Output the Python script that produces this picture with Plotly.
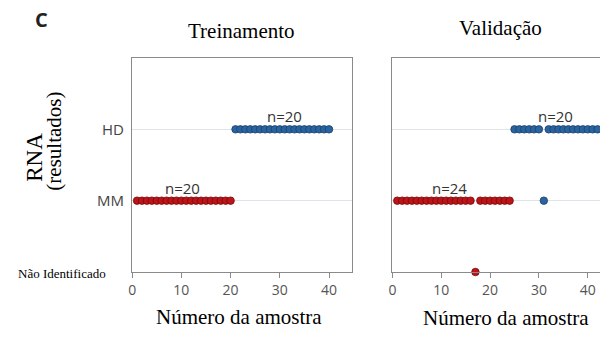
import plotly.graph_objects as go

# ---- data ----
categories = ["Não Identificado", "MM", "HD"]   # y levels 0,1,2
x_ticks = [0, 10, 20, 30, 40]

train_mm = [1, 2, 3, 4, 5, 6, 7, 8, 9, 10, 11, 12, 13, 14, 15, 16, 17, 18, 19, 20]
train_hd = [21, 22, 23, 24, 25, 26, 27, 28, 29, 30, 31, 32, 33, 34, 35, 36, 37, 38, 39, 40]

val_mm_red = [1, 2, 3, 4, 5, 6, 7, 8, 9, 10, 11, 12, 13, 14, 15, 16, 18, 19, 20, 21, 22, 23, 24]
val_ni_red = [17]
val_mm_blue = [31]
val_hd_blue = [25, 26, 27, 28, 29, 30, 32, 33, 34, 35, 36, 37, 38, 39, 40, 41, 42, 43, 44, 45]

n_labels = ["n=20", "n=20", "n=24", "n=20"]
n_label_x = [10.2, 31.0, 11.6, 33.3]
n_label_y = ["MM", "HD", "MM", "HD"]
n_label_axis = ["1", "1", "2", "2"]

W, H = 600, 338
RED, RED_LINE = "#bb1419", "#780a0a"
BLUE, BLUE_LINE = "#2a64a0", "#1a3f6b"
SERIF = "Liberation Serif"
SANS = "Open Sans"

def px(x):
    return x / W

def py(y):
    return 1 - y / H

ylevel = {c: i for i, c in enumerate(categories)}

fig = go.Figure()

def add(xs, level, color, line, xa, ya):
    fig.add_trace(go.Scatter(
        x=xs, y=[ylevel[level]] * len(xs), mode="markers",
        marker=dict(size=7.5, color=color, line=dict(color=line, width=0.8)),
        xaxis=xa, yaxis=ya, showlegend=False,
        cliponaxis=False if level == "Não Identificado" else True,
        hoverinfo="x+y"))

add(train_mm, "MM", RED, RED_LINE, "x", "y")
add(train_hd, "HD", BLUE, BLUE_LINE, "x", "y")
add(val_mm_red, "MM", RED, RED_LINE, "x2", "y2")
add(val_ni_red, "Não Identificado", RED, RED_LINE, "x2", "y2")
add(val_mm_blue, "MM", BLUE, BLUE_LINE, "x2", "y2")
add(val_hd_blue, "HD", BLUE, BLUE_LINE, "x2", "y2")

frame = "#8a8a8a"
tickfont = dict(family=SANS, size=14, color="#555555")
xcommon = dict(tickvals=x_ticks, ticks="outside", ticklen=5, tickcolor=frame,
               showgrid=False, zeroline=False, showline=True, linecolor=frame,
               linewidth=1.3, mirror=True, tickfont=tickfont, fixedrange=True)
ycommon = dict(range=[0, 3], tickvals=[1, 2], ticktext=["MM", "HD"], showgrid=True,
               gridcolor="#dfe4ea", gridwidth=1, zeroline=False, showline=True,
               linecolor=frame, linewidth=1.3, fixedrange=True)

fig.update_layout(
    width=W, height=H, margin=dict(l=0, r=0, t=0, b=0),
    paper_bgcolor="white", plot_bgcolor="white",
    xaxis=dict(domain=[px(129), px(350)], range=[0, 44.6], anchor="y", **xcommon),
    yaxis=dict(domain=[py(272), py(58)], anchor="x", mirror=True,
               ticks="outside", ticklen=4, tickcolor="rgba(0,0,0,0)",
               tickfont=dict(family=SANS, size=15, color="#444444"), **ycommon),
    xaxis2=dict(domain=[px(391), 1], range=[0, 42.5], anchor="y2", **xcommon),
    yaxis2=dict(domain=[py(272), py(58)], anchor="x2", mirror=False,
                showticklabels=False, **ycommon),
)

ann = []
for t, x, lvl, ax in zip(n_labels, n_label_x, n_label_y, n_label_axis):
    ann.append(dict(text=t, x=x, y=ylevel[lvl], xref="x" if ax == "1" else "x2",
                    yref="y" if ax == "1" else "y2", yshift=13, showarrow=False,
                    font=dict(family=SANS, size=15, color="#333333")))

def txt(text, x, y, size, family=SERIF, angle=0, color="black"):
    ann.append(dict(text=text, x=px(x), y=py(y), xref="paper", yref="paper",
                    showarrow=False, textangle=angle, xanchor="center", yanchor="middle",
                    font=dict(family=family, size=size, color=color)))

txt("Treinamento", 239.5, 31, 21)
txt("Validação", 500, 28, 21)
txt("Número da amostra", 237, 317, 21)
txt("Número da amostra", 505, 318, 21)
txt("RNA", 30, 157, 23, angle=-90)
txt("(resultados)", 50, 141, 21, angle=-90)
txt("Não Identificado", 58, 273, 13)
txt("<b>C</b>", 38, 20, 20, family=SANS, color="#222222")

fig.update_layout(annotations=ann)

fig.write_html("out.html")
